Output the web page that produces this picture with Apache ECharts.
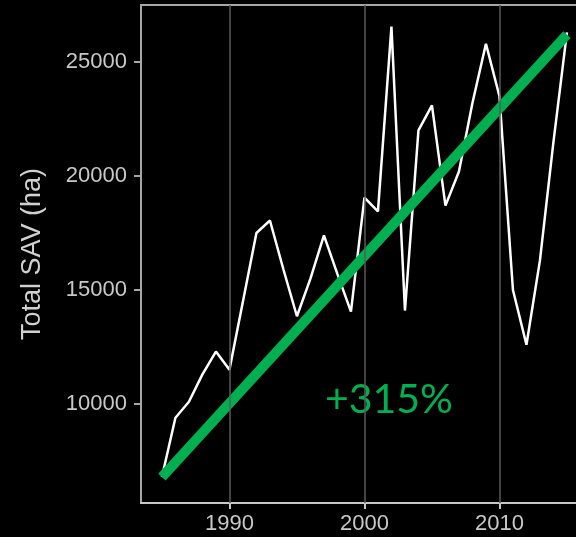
<!DOCTYPE html>
<html>
<head>
<meta charset="utf-8">
<script src="https://cdn.jsdelivr.net/npm/echarts@6/dist/echarts.min.js"></script>
<style>
  html, body { margin: 0; padding: 0; background: #000; }
  #chart { width: 576px; height: 537px; }
</style>
</head>
<body>
<div id="chart"></div>
<script>
// Annual total submerged aquatic vegetation (SAV) area, hectares
const years = [1985, 1986, 1987, 1988, 1989, 1990, 1991, 1992, 1993, 1994,
               1995, 1996, 1997, 1998, 1999, 2000, 2001, 2002, 2003, 2004,
               2005, 2006, 2007, 2008, 2009, 2010, 2011, 2012, 2013, 2014, 2015];
const savHa = [6800, 9400, 10100, 11300, 12300, 11500, 14500, 17500, 18050, 15900,
               13850, 15500, 17400, 15700, 14050, 19050, 18450, 26550, 14100, 22000,
               23100, 18700, 20200, 23200, 25800, 23500, 15000, 12600, 16300, 21500, 26300];

// Straight trend from the first to the last year
const trendYears = [1985, 2015];
const trendValues = [6800, 26200];
const trendLabel = '+315%';

const xTicks = [1990, 2000, 2010];
const yTicks = [10000, 15000, 20000, 25000];

const chart = echarts.init(document.getElementById('chart'));

const axisGray = '#a6a6a6';
const labelGray = '#c8c8c8';
const plain = v => String(v);

chart.setOption({
  backgroundColor: '#000',
  animation: false,
  grid: { left: 141, top: 5, right: 0, bottom: 34 },
  xAxis: [{
    type: 'value',
    min: 1983.45,
    max: 2015.67,
    axisLine: { show: true, lineStyle: { color: '#c8c8c8', width: 2 } },
    axisTick: { show: true, length: 6, customValues: xTicks, lineStyle: { color: '#c8c8c8', width: 2 } },
    axisLabel: { customValues: xTicks, formatter: plain, color: labelGray, fontFamily: 'Liberation Sans', fontSize: 22, margin: 10 },
    splitLine: { show: false }
  }, {
    type: 'value',
    position: 'top',
    min: 1983.45,
    max: 2015.67,
    axisLine: { show: true, onZero: false, lineStyle: { color: axisGray, width: 2 } },
    axisTick: { show: false },
    axisLabel: { show: false },
    splitLine: { show: false }
  }],
  yAxis: {
    type: 'value',
    min: 5660,
    max: 27500,
    name: 'Total SAV (ha)',
    nameLocation: 'middle',
    nameRotate: 90,
    nameGap: 95,
    nameTextStyle: { color: '#d0d0d0', fontFamily: 'Liberation Sans', fontSize: 27 },
    axisLine: { show: true, lineStyle: { color: axisGray, width: 2 } },
    axisTick: { show: true, length: 7, customValues: yTicks, lineStyle: { color: axisGray, width: 2 } },
    axisLabel: { customValues: yTicks, formatter: plain, color: labelGray, fontFamily: 'Liberation Sans', fontSize: 22, margin: 14 },
    splitLine: { show: false }
  },
  series: [{
    type: 'line',
    name: 'SAV',
    data: years.map((y, i) => [y, savHa[i]]),
    showSymbol: false,
    lineStyle: { color: '#fff', width: 2.5 },
    z: 3,
    markLine: {
      silent: true,
      symbol: 'none',
      label: { show: false },
      lineStyle: { color: '#5a5a5a', width: 1.5, type: 'solid' },
      data: xTicks.map(v => ({ xAxis: v }))
    }
  }, {
    type: 'line',
    name: 'Trend',
    data: trendYears.map((y, i) => [y, trendValues[i]]),
    showSymbol: false,
    lineStyle: { color: '#00b050', width: 10, cap: 'butt' },
    z: 4
  }],
  graphic: [{
    type: 'text',
    left: 325,
    top: 379,
    style: {
      text: trendLabel,
      fill: '#00b050',
      font: '41px Lato'
    }
  }]
});
</script>
</body>
</html>
